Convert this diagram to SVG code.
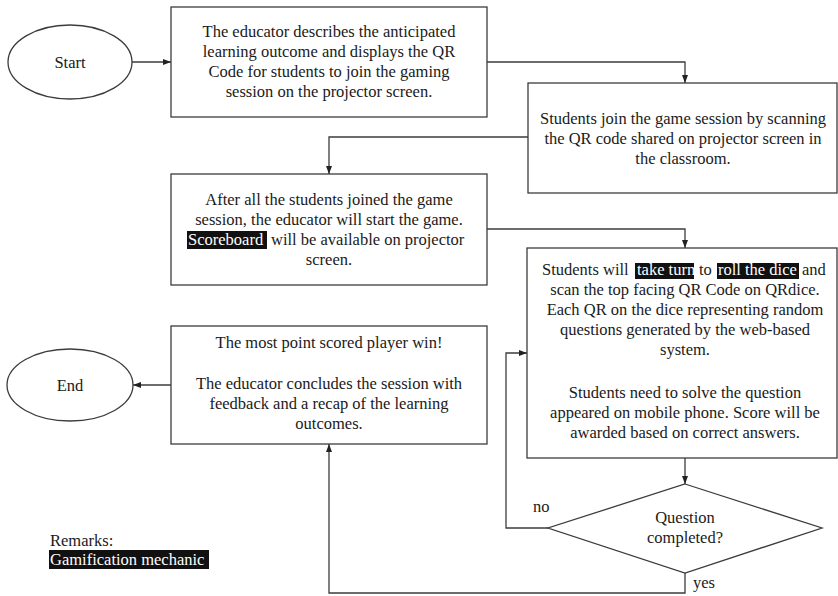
<svg xmlns="http://www.w3.org/2000/svg" width="838" height="596" viewBox="0 0 838 596">
<style>
.box{fill:#fff;stroke:#3c3c3c;stroke-width:1.3}
.t{font-family:"Liberation Serif","Times New Roman",serif;font-size:16.5px;fill:#1a1a1a;text-anchor:middle}
.s{font-family:"Liberation Serif","Times New Roman",serif;font-size:16.5px;fill:#1a1a1a}
.w{fill:#fff}
.hl{fill:#111}
.c{fill:none;stroke:#3c3c3c;stroke-width:1.3}
</style>
<defs>
<marker id="ah" viewBox="0 0 8 8" refX="8" refY="4" markerWidth="8" markerHeight="8" markerUnits="userSpaceOnUse" orient="auto">
<path d="M0,1 L8,4 L0,7 Z" fill="#222"/>
</marker>
</defs>
<rect width="838" height="596" fill="#fff"/>
<g id="connectors">
<path class="c" d="M132,62 H171" marker-end="url(#ah)"/>
<path class="c" d="M487,62 H685 V83" marker-end="url(#ah)"/>
<path class="c" d="M528,137 H329 V174" marker-end="url(#ah)"/>
<path class="c" d="M487,229 H685 V248" marker-end="url(#ah)"/>
<path class="c" d="M685,458 V484" marker-end="url(#ah)"/>
<path class="c" d="M548,528 H506 V353 H527" marker-end="url(#ah)"/>
<path class="c" d="M685,573 V593 H329 V444" marker-end="url(#ah)"/>
<path class="c" d="M171,385 H133" marker-end="url(#ah)"/>
<text class="s" x="533" y="512">no</text>
<text class="s" x="693" y="588">yes</text>
</g>
<g id="start">
<ellipse class="box" cx="70" cy="62" rx="62" ry="37"/>
<text class="t" x="70" y="68">Start</text>
</g>
<g id="box1">
<rect class="box" x="171" y="7" width="316" height="110"/>
<text class="t" x="329" y="37">The educator describes the anticipated</text>
<text class="t" x="329" y="57">learning  outcome and displays the QR</text>
<text class="t" x="329" y="77">Code for students to join the gaming</text>
<text class="t" x="329" y="97">session on the projector screen.</text>
</g>
<g id="box2">
<rect class="box" x="528" y="83" width="309" height="110"/>
<text class="t" x="683" y="124">Students join  the game  session by scanning</text>
<text class="t" x="683" y="144">the QR code shared on projector screen in</text>
<text class="t" x="683" y="164">the classroom.</text>
</g>
<g id="box3">
<rect class="box" x="171" y="174" width="316" height="111"/>
<text class="t" x="329" y="205">After all the students joined the game</text>
<text class="t" x="329" y="225">session, the educator will  start the game.</text>
<rect class="hl" x="187" y="231" width="80" height="18"/>
<text class="s w" x="188" y="245">Scoreboard</text>
<text class="s" x="271" y="245">will be available  on projector</text>
<text class="t" x="329" y="265">screen.</text>
</g>
<g id="box4">
<rect class="box" x="527" y="248" width="310" height="210"/>
<text class="s" x="542" y="275">Students will</text>
<rect class="hl" x="635" y="263" width="59" height="16"/>
<text class="s w" x="637" y="275">take turn</text>
<text class="s" x="699" y="275">to</text>
<rect class="hl" x="717" y="263" width="82" height="16"/>
<text class="s w" x="718" y="275">roll  the dice</text>
<text class="s" x="802" y="275">and</text>
<text class="t" x="685" y="295">scan the top facing QR Code on QRdice.</text>
<text class="t" x="685" y="315">Each QR on the dice representing random</text>
<text class="t" x="685" y="335">questions generated  by the web-based</text>
<text class="t" x="685" y="355">system.</text>
<text class="t" x="685" y="398">Students need to solve the question</text>
<text class="t" x="685" y="418">appeared on mobile phone. Score will  be</text>
<text class="t" x="685" y="438">awarded based on correct answers.</text>
</g>
<g id="decision">
<polygon class="box" points="685,484 822,528 685,573 548,528"/>
<text class="t" x="685" y="523">Question</text>
<text class="t" x="685" y="543">completed?</text>
</g>
<g id="box5">
<rect class="box" x="171" y="326" width="316" height="118"/>
<text class="t" x="329" y="348">The most point scored player win!</text>
<text class="t" x="329" y="389">The educator concludes the session with</text>
<text class="t" x="329" y="409">feedback and a recap of the learning</text>
<text class="t" x="329" y="429">outcomes.</text>
</g>
<g id="end">
<ellipse class="box" cx="70" cy="385" rx="63" ry="36"/>
<text class="t" x="70" y="391">End</text>
</g>
<g id="remarks">
<text class="s" x="50" y="546">Remarks:</text>
<rect class="hl" x="49" y="550" width="160" height="19"/>
<text class="s w" x="50" y="565">Gamification  mechanic</text>
</g>
</svg>
